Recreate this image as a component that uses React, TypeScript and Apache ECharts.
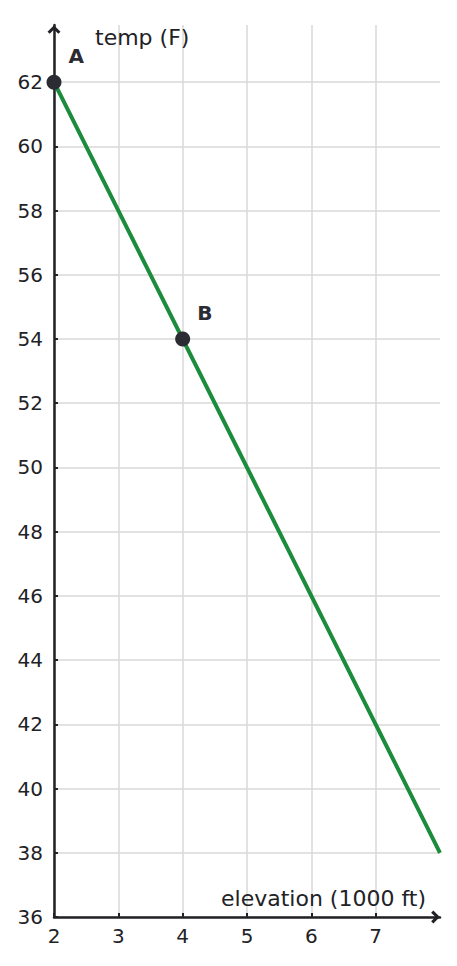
import { useEffect, useRef } from "react";
import * as echarts from "echarts";

// elevation (1000 ft) vs temp (F)
const lineX = [2, 8];
const lineY = [62, 38];
const pointNames = ["A", "B"];
const pointX = [2, 4];
const pointY = [62, 54];
const xTicks = [2, 3, 4, 5, 6, 7];
const yTicks = [36, 38, 40, 42, 44, 46, 48, 50, 52, 54, 56, 58, 60, 62];

const FONT = "DejaVu Sans";
const INK = "#222226";
// open chevron, pointing up (ECharts rotates it along the axis)
const CHEVRON = "path://M5 0 L10 5 L8.3 6.7 L5 3.4 L1.7 6.7 L0 5 Z";

export default function App() {
  const chartRef = useRef<HTMLDivElement>(null);

  useEffect(() => {
    if (!chartRef.current) return;
    const chart = echarts.init(chartRef.current, null, { renderer: "svg" });

    chart.setOption({
      animation: false,
      grid: { left: 54, right: 17, top: 25, bottom: 49 },
      xAxis: {
        type: "value",
        min: 2,
        max: 8,
        interval: 1,
        name: "elevation (1000 ft)",
        nameLocation: "end",
        nameGap: -14,
        nameTextStyle: {
          fontFamily: FONT,
          fontSize: 22,
          color: INK,
          align: "right",
          verticalAlign: "bottom",
          padding: [0, 0, 8, 0],
        },
        axisLine: {
          lineStyle: { color: INK, width: 2.5 },
          symbol: ["none", CHEVRON],
          symbolSize: [13, 9],
          symbolOffset: [0, -4.5],
        },
        axisTick: { inside: true, length: 4, lineStyle: { color: INK, width: 2 }, customValues: xTicks },
        axisLabel: {
          customValues: xTicks,
          fontFamily: FONT,
          fontSize: 20,
          color: INK,
          margin: 9,
        },
        splitLine: { show: true, lineStyle: { color: "#d8d8d8", width: 1.5 } },
      },
      yAxis: {
        type: "value",
        min: 36,
        max: 63.78,
        name: "temp (F)",
        nameLocation: "end",
        nameGap: -12,
        nameTextStyle: {
          fontFamily: FONT,
          fontSize: 22,
          color: INK,
          align: "left",
          verticalAlign: "middle",
          padding: [0, 0, 0, 41],
        },
        axisLine: {
          show: true,
          lineStyle: { color: INK, width: 2.5 },
          symbol: ["none", CHEVRON],
          symbolSize: [13, 9],
          symbolOffset: [0, -4.5],
        },
        axisTick: { show: true, inside: true, length: 4, lineStyle: { color: INK, width: 2 }, customValues: yTicks },
        axisLabel: {
          customValues: yTicks,
          fontFamily: FONT,
          fontSize: 20,
          color: INK,
          margin: 11,
        },
        splitLine: { show: true, lineStyle: { color: "#d8d8d8", width: 1.5 } },
      },
      series: [
        {
          type: "line",
          data: lineX.map((x, i) => [x, lineY[i]]),
          symbol: "none",
          lineStyle: { color: "#1b8b3c", width: 4 },
          z: 3,
        },
        {
          type: "scatter",
          data: pointX.map((x, i) => ({ name: pointNames[i], value: [x, pointY[i]] })),
          symbolSize: 15,
          itemStyle: { color: "#2b2b33", opacity: 1 },
          label: {
            show: true,
            formatter: "{b}",
            position: [22, -29],
            fontFamily: FONT,
            fontSize: 20,
            fontWeight: "bold",
            color: "#2b2b33",
          },
          z: 4,
        },
      ],
    });

    return () => chart.dispose();
  }, []);

  return <div ref={chartRef} style={{ width: 457, height: 966, margin: -8 }} />;
}
